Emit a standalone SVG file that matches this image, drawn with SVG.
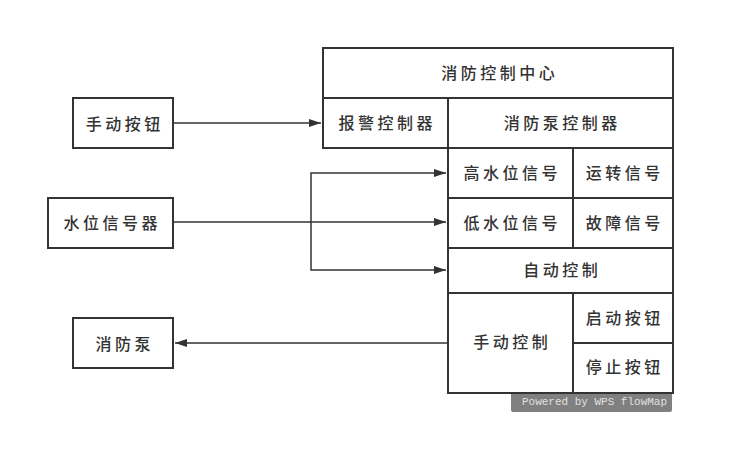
<svg xmlns="http://www.w3.org/2000/svg" width="735" height="455" viewBox="0 0 735 455">
<style>
.b{fill:#fff;stroke:#333;stroke-width:2}
.t{font-family:"Noto Sans CJK SC","Noto Sans",sans-serif;font-size:16px;font-weight:500;fill:#333;text-anchor:middle;dominant-baseline:central;letter-spacing:3.5px}
.c{fill:none;stroke:#333;stroke-width:1.5}
.wm{font-family:"Liberation Mono",monospace;font-size:11px;fill:#e0e0e0}
</style>
<defs>
<marker id="a" viewBox="0 0 12 8" refX="12" refY="4" markerWidth="13" markerHeight="8" markerUnits="userSpaceOnUse" orient="auto">
<path d="M0,0 L12,4 L0,8 Z" fill="#333"/>
</marker>
</defs>
<rect width="735" height="455" fill="#fff"/>
<g id="watermark">
<rect x="511" y="392" width="161" height="20" rx="2" fill="#808080"/>
<text x="522" y="405" class="wm" textLength="145" lengthAdjust="spacingAndGlyphs">Powered by WPS flowMap</text>
</g>
<g id="connectors">
<path class="c" d="M173,123 H321" marker-end="url(#a)"/>
<path class="c" d="M173,222 H446" marker-end="url(#a)"/>
<path class="c" d="M311,222 V173 H446" marker-end="url(#a)"/>
<path class="c" d="M311,222 V270 H446" marker-end="url(#a)"/>
<path class="c" d="M447,343 H175" marker-end="url(#a)"/>
</g>
<g id="n-btn"><rect class="b" x="73" y="98" width="100" height="50"/><text class="t" x="124.75" y="123">手动按钮</text></g>
<g id="n-water"><rect class="b" x="48" y="198" width="125" height="50"/><text class="t" x="112.25" y="222">水位信号器</text></g>
<g id="n-pump"><rect class="b" x="73" y="318" width="100" height="50"/><text class="t" x="124.75" y="343">消防泵</text></g>
<g id="n-center"><rect class="b" x="323" y="48" width="350" height="50"/><text class="t" x="499.75" y="72">消防控制中心</text></g>
<g id="n-alarm"><rect class="b" x="323" y="98" width="125" height="50"/><text class="t" x="387.25" y="122">报警控制器</text></g>
<g id="n-pumpctl"><rect class="b" x="448" y="98" width="225" height="50"/><text class="t" x="562.25" y="122">消防泵控制器</text></g>
<g id="n-high"><rect class="b" x="448" y="148" width="125" height="50"/><text class="t" x="512.25" y="172">高水位信号</text></g>
<g id="n-run"><rect class="b" x="573" y="148" width="100" height="50"/><text class="t" x="624.75" y="172">运转信号</text></g>
<g id="n-low"><rect class="b" x="448" y="198" width="125" height="50"/><text class="t" x="512.25" y="222">低水位信号</text></g>
<g id="n-fault"><rect class="b" x="573" y="198" width="100" height="50"/><text class="t" x="624.75" y="222">故障信号</text></g>
<g id="n-auto"><rect class="b" x="448" y="248" width="225" height="45"/><text class="t" x="562.25" y="269">自动控制</text></g>
<g id="n-manual"><rect class="b" x="448" y="293" width="125" height="100"/><text class="t" x="512.25" y="341">手动控制</text></g>
<g id="n-start"><rect class="b" x="573" y="293" width="100" height="50"/><text class="t" x="624.75" y="317">启动按钮</text></g>
<g id="n-stop"><rect class="b" x="573" y="343" width="100" height="50"/><text class="t" x="624.75" y="366">停止按钮</text></g>
</svg>
